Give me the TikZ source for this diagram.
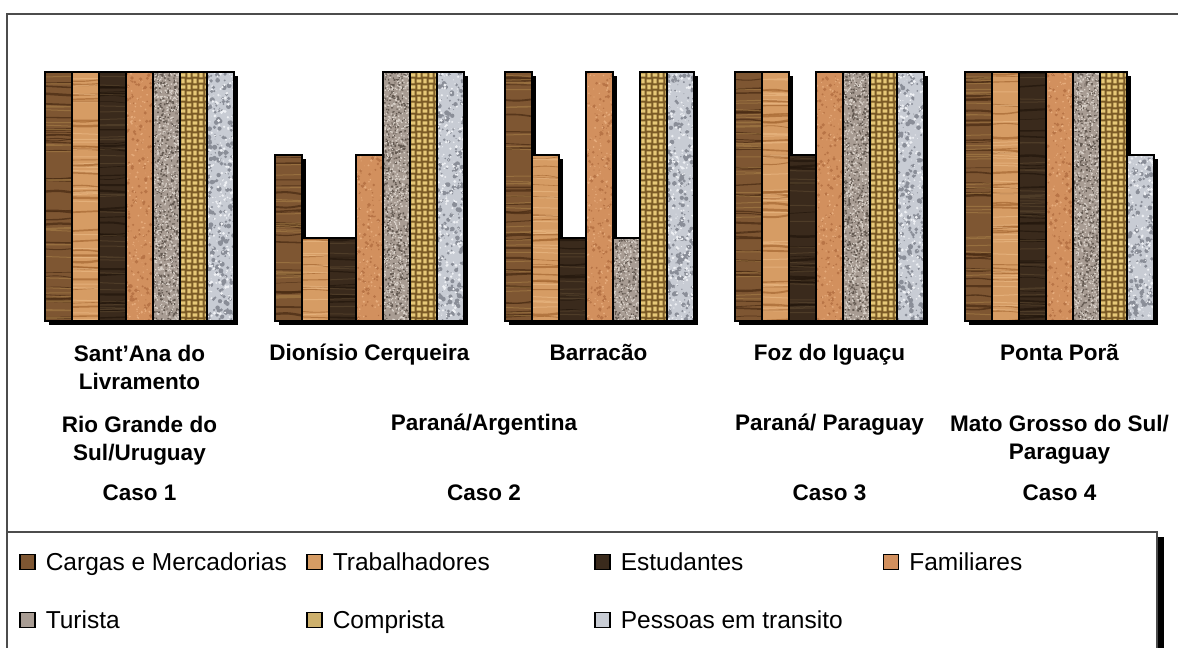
\documentclass[tikz,border=0pt]{standalone}
\usepackage{fontspec}
\setmainfont{Liberation Sans}
\usetikzlibrary{positioning}

% couleurs des textures (base, sombre, clair)
\definecolor{c1}{HTML}{7E5632}\definecolor{cD1}{HTML}{4A2C14}\definecolor{cL1}{HTML}{A88048}
\definecolor{c2}{HTML}{D69C64}\definecolor{cD2}{HTML}{A86A34}\definecolor{cL2}{HTML}{EDBC88}
\definecolor{c3}{HTML}{3A2A1C}\definecolor{cD3}{HTML}{22160C}\definecolor{cL3}{HTML}{5C4830}
\definecolor{c4}{HTML}{D2905E}\definecolor{cD4}{HTML}{B87446}\definecolor{cL4}{HTML}{E6AC7C}
\definecolor{c5}{HTML}{A89C93}\definecolor{cD5}{HTML}{645A52}\definecolor{cL5}{HTML}{D8D0C8}
\definecolor{c6}{HTML}{7A5A26}\definecolor{cD6}{HTML}{6E5224}\definecolor{cL6}{HTML}{E6C878}
\definecolor{c7}{HTML}{C8CCD4}\definecolor{cD7}{HTML}{8A8E98}\definecolor{cL7}{HTML}{EEF0F4}
\definecolor{key6}{HTML}{CDB06C}

% bois : stries horizontales
\newcommand{\woodtex}[3]{%
  \pgfmathtruncatemacro\ns{(321-#2)/8}
  \foreach \s in {1,...,\ns}{
    \pgfmathsetmacro\yy{#2+(321-#2)*rnd}
    \pgfmathsetmacro\lw{0.5+2*rnd}
    \draw[cD#3, line width=\lw pt, opacity=0.75] ({#1-2},\yy) .. controls ({#1+13},{\yy+3*rnd-1.5}) .. ({#1+29},{\yy+4*rnd-2});
  }
  \draw[cL#3, line width=1pt, opacity=0.6] \foreach \s in {1,...,\ns}{
    ({#1-2},{#2+(321-#2)*rnd}) -- ++(31,{3*rnd-1.5})};
}
% granit : points ronds
\newcommand{\graintex}[5]{%
  \pgfmathtruncatemacro\nd{(321-#2)*27/#4}
  \fill[cD#3] \foreach \s in {1,...,\nd}{
    ({#1+27*rnd},{#2+(321-#2)*rnd}) circle ({0.4+#5*rnd})};
  \fill[cL#3] \foreach \s in {1,...,\nd}{
    ({#1+27*rnd},{#2+(321-#2)*rnd}) circle ({0.3+0.6*#5*rnd})};
}
% granit fin : grains carres
\newcommand{\sandtex}[4]{%
  \pgfmathtruncatemacro\nd{(321-#2)*27/#4}
  \fill[cD#3] \foreach \s in {1,...,\nd}{
    ({#1+27*rnd},{#2+(321-#2)*rnd}) rectangle ++({0.8+1.3*rnd},{0.8+1.3*rnd})};
  \fill[cL#3] \foreach \s in {1,...,\nd}{
    ({#1+27*rnd},{#2+(321-#2)*rnd}) rectangle ++(1.3,1.3)};
}
% tressage
\newcommand{\weavetex}[3]{%
  \pgfmathtruncatemacro\nr{(321-#2)/6}
  \fill[cL#3] \foreach \i in {0,...,4}{
    \foreach \j in {0,...,\nr}{
      ({#1+6*\i+0.6+0.7*mod(\i+\j,2)},{#2+6*\j+1.3-0.7*mod(\i+\j,2)})
        rectangle ++({4.8-1.4*mod(\i+\j,2)},{3.4+1.4*mod(\i+\j,2)})
    }};
}
% une barre : x gauche, y haut, categorie
\newcommand{\texbar}[3]{%
  \fill[black] ({#1+4},{#2+4}) rectangle ({#1+31},325);
  \begin{scope}
    \clip (#1,#2) rectangle ({#1+27},321);
    \fill[c#3] (#1,#2) rectangle ({#1+27},321);
    \ifcase#3\relax\or\woodtex{#1}{#2}{#3}\or\woodtex{#1}{#2}{#3}\or\woodtex{#1}{#2}{#3}%
    \or\graintex{#1}{#2}{#3}{40}{1.6}\or\sandtex{#1}{#2}{#3}{10}%
    \or\weavetex{#1}{#2}{#3}\or\graintex{#1}{#2}{#3}{26}{2.2}\fi
  \end{scope}
  \draw[barline] (#1,#2) rectangle ({#1+27},321);
}

\begin{document}
\begin{tikzpicture}[x=1pt, y=-1pt,
    barline/.style={draw=black, line width=1.4pt},
    frame/.style={draw=black!70, line width=1.3pt},
    lab/.style={font=\fontsize{22.5}{28}\selectfont\bfseries, align=center},
    one/.style={lab, text height=16.5pt, text depth=5pt},
    leg/.style={font=\fontsize{24.5}{28}\selectfont, inner sep=0pt, text height=18pt, text depth=5pt, yshift=-1.5pt},
    key/.style={draw=black, line width=1.2pt, minimum size=15pt, inner sep=0pt}
]
    \useasboundingbox (0,0) rectangle (1178,648);
    \pgfmathsetseed{5}

    % Cadre du graphique
    \draw[frame] (1178,14) -- (7,14) -- (7,648);

    % Barres (3 = haut, 2 = moyen, 1 = bas)
    \foreach \g/\vals in {0/{3,3,3,3,3,3,3}, 1/{2,1,1,2,3,3,3}, 2/{3,2,1,3,1,3,3}, 3/{3,3,2,3,3,3,3}, 4/{3,3,3,3,3,3,2}} {
        \foreach \v [count=\k] in \vals {
            \pgfmathsetmacro\bx{45+230*\g+27*(\k-1)}
            \pgfmathsetmacro\by{321-83*\v}
            \texbar{\bx}{\by}{\k}
        }
    }

    % Etiquettes
    \node[lab] (sant) at (139.5,367) {Sant’Ana do\\Livramento};
    \node[lab] (rgs) at (139.5,440.5) {Rio Grande do\\Sul/Uruguay};
    \node[one] (caso1) at (139.5,495) {Caso 1};

    \node[one] (dion) at (369.5,355) {Dionísio Cerqueira};
    \node[one] (barr) at (598.5,355) {Barracão};
    \node[one] (parArg) at (484,425) {Paraná/Argentina};
    \node[one] (caso2) at (484,495) {Caso 2};

    \node[one] (foz) at (829.5,355) {Foz do Iguaçu};
    \node[one] (parPar) at (829.5,425) {Paraná/ Paraguay};
    \node[one] (caso3) at (829.5,495) {Caso 3};

    \node[one] (ponta) at (1059.5,355) {Ponta Porã};
    \node[lab] (mgs) at (1059.5,439.5) {Mato Grosso do Sul/\\Paraguay};
    \node[one] (caso4) at (1059.5,495) {Caso 4};

    % Legende
    \draw[frame] (7,532) -- (1157,532) -- (1157,648);
    \fill[black] (1158,537) rectangle (1164,648);

    \node[key, fill=c1] (key1) at (27.5,562) {};
    \node[key, fill=c2] (key2) at (314.5,562) {};
    \node[key, fill=c3] (key3) at (602.5,562) {};
    \node[key, fill=c4] (key4) at (891,562) {};
    \node[key, fill=c5] (key5) at (27.5,620) {};
    \node[key, fill=key6] (key6) at (314.5,620) {};
    \node[key, fill=c7] (key7) at (602.5,620) {};

    \node[leg, right=10pt of key1] (leg1) {Cargas e Mercadorias};
    \node[leg, right=10pt of key2] (leg2) {Trabalhadores};
    \node[leg, right=10pt of key3] (leg3) {Estudantes};
    \node[leg, right=10pt of key4] (leg4) {Familiares};
    \node[leg, right=10pt of key5] (leg5) {Turista};
    \node[leg, right=10pt of key6] (leg6) {Comprista};
    \node[leg, right=10pt of key7] (leg7) {Pessoas em transito};
\end{tikzpicture}
\end{document}
